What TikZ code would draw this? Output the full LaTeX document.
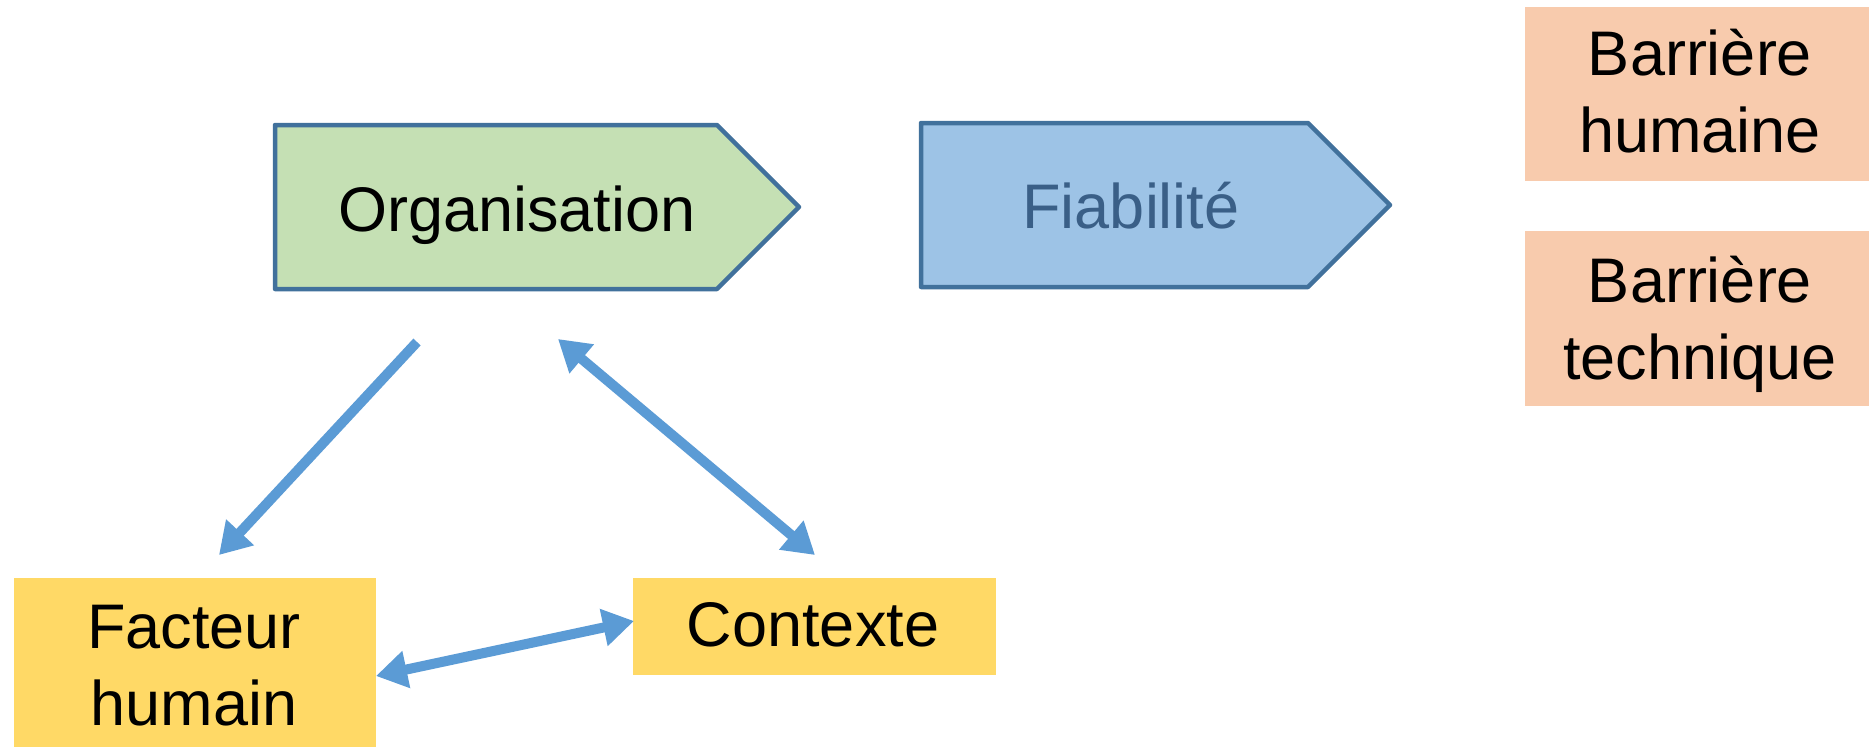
\documentclass[tikz,border=0pt]{standalone}
\usepackage{fontspec}
\setmainfont{Liberation Sans}
\usetikzlibrary{arrows.meta}
\definecolor{orgfill}{HTML}{C5E0B4}
\definecolor{fiafill}{HTML}{9DC3E6}
\definecolor{edgeblue}{HTML}{41719C}
\definecolor{fiatext}{HTML}{3A5F87}
\definecolor{yel}{HTML}{FFD966}
\definecolor{ora}{HTML}{F8CBAD}
\definecolor{arr}{HTML}{5B9BD5}
\begin{document}
\begin{tikzpicture}[x=1pt,y=-1pt,
  lbl/.style={font=\fontsize{63}{77}\selectfont, align=center, inner sep=0pt},
  pent/.style={draw=edgeblue, line width=4.5pt, line join=round},
  link/.style={draw=arr, line width=10pt, -{Triangle[length=31pt,width=36pt]}},
  dlink/.style={draw=arr, line width=10pt, {Triangle[length=31pt,width=36pt]}-{Triangle[length=31pt,width=36pt]}}]
\useasboundingbox (0,0) rectangle (1874,747);
\fill[white] (0,0) rectangle (1874,747);
% pentagons
\path[pent, fill=orgfill] (275,125) -- (717,125) -- (799,207) -- (717,289) -- (275,289) -- cycle;
\path[pent, fill=fiafill] (921,123) -- (1308,123) -- (1390,205) -- (1308,287) -- (921,287) -- cycle;
\node[lbl, anchor=base] (org) at (517,231) {Organisation};
\node[lbl, anchor=base, text=fiatext] (fia) at (1131,228) {Fiabilité};
% boxes
\fill[yel] (14,578) rectangle (376,747);
\fill[yel] (633,578) rectangle (996,675);
\fill[ora] (1525,7) rectangle (1869,181);
\fill[ora] (1525,231) rectangle (1869,406);
\node[lbl] (fh) at (194,666) {Facteur\\humain};
\node[lbl, anchor=base] (ctx) at (813,646) {Contexte};
\node[lbl] (bh) at (1700,91) {Barrière\\humaine};
\node[lbl] (bt) at (1700,324) {Barrière\\technique};
% arrow ends
\coordinate (a1s) at (417,342);
\coordinate (a1e) at (219,555);
\coordinate (a2s) at (558,339);
\coordinate (a2e) at (815,555);
\coordinate (a3s) at (376,676);
\coordinate (a3e) at (634,621);
\draw[link] (a1s) -- (a1e);
\draw[dlink] (a2s) -- (a2e);
\draw[dlink] (a3s) -- (a3e);
\end{tikzpicture}
\end{document}
